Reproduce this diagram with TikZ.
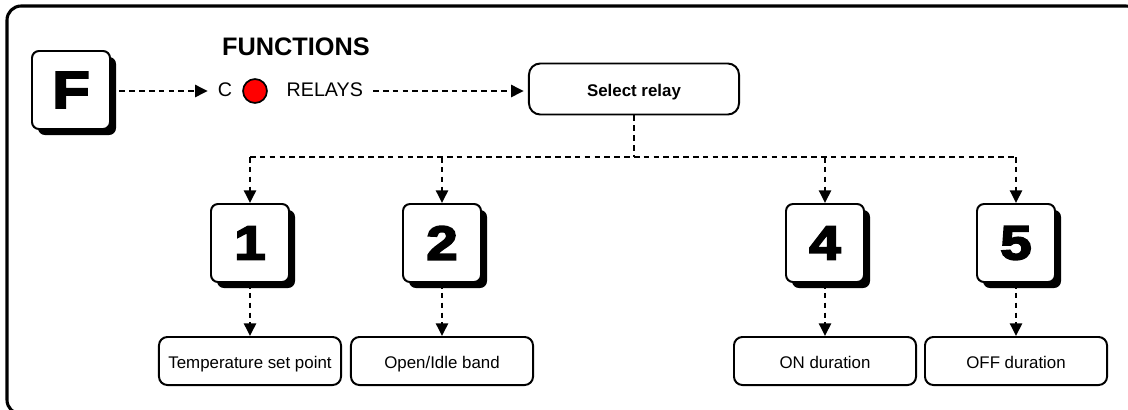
\documentclass[tikz,border=0pt]{standalone}
\usepackage{fontspec}
\setmainfont{Liberation Sans}
\newfontfamily\keyfont[FakeBold=4, FakeStretch=1.18]{Liberation Sans Bold}
\usetikzlibrary{arrows.meta,shadows}

\tikzset{
  keybox/.style={draw, line width=1.4pt, rounded corners=5pt, fill=white,
    minimum width=1.95cm, minimum height=1.95cm, inner sep=0pt,
    drop shadow={shadow xshift=0.15cm, shadow yshift=-0.15cm, fill=black, opacity=1},
    font=\keyfont\fontsize{34}{34}\selectfont},
  labelbox/.style={draw, line width=1.4pt, rounded corners=6pt,
    minimum width=4.55cm, minimum height=1.2cm, text height=2ex, text depth=0pt,
    font=\fontsize{12}{14}\selectfont},
  dashline/.style={line width=1.8pt, dash pattern=on 4pt off 3pt},
  tip/.style={-{Triangle[length=9pt,width=8.5pt]}}
}

\begin{document}
\begin{tikzpicture}[x=0.025cm, y=-0.025cm]
		\useasboundingbox (0,0) rectangle (1128,409);
		% frame
		\draw[line width=2.2pt, rounded corners=10pt] (7,6) rectangle (1140,414);
		% function key
		\node[keybox, font=\keyfont\fontsize{37}{37}\selectfont] (fkey) at (71,90) {F};
		\node[font=\bfseries\fontsize{18}{20}\selectfont] (title) at (296,47) {FUNCTIONS};
		% relays menu
		\node[font=\fontsize{14}{16}\selectfont, inner sep=1pt, text height=1.6ex, text depth=0.2ex] (ctext) at (225,91) {C};
		\node[circle, draw, line width=1.2pt, fill=red, minimum size=17pt, inner sep=0pt] (led) at (255,91) {};
		\node[font=\fontsize{14}{16}\selectfont, inner sep=1pt, text height=1.6ex, text depth=0.2ex, anchor=west] (relays) at (285,91) {RELAYS};
		\node[draw, line width=1.4pt, rounded corners=8pt, minimum width=5.25cm, minimum height=1.275cm,
		  text height=2ex, text depth=0pt, font=\bfseries\fontsize{12}{14}\selectfont] (select) at (634,89) {Select relay};
		\draw[dashline, tip, shorten <=6pt, shorten >=6pt] (fkey.east |- led) -- (ctext.west);
		\draw[dashline, tip, shorten <=6pt, shorten >=3pt] (relays.east) -- (select.west |- relays.east);
		% relay keys
		\node[keybox] (key1) at (250,243) {1};
		\node[keybox] (key2) at (442,243) {2};
		\node[keybox] (key4) at (825,243) {4};
		\node[keybox] (key5) at (1016,243) {5};
		% settings
		\node[labelbox] (lab1) at (250,361) {Temperature set point};
		\node[labelbox] (lab2) at (442,361) {Open/Idle band};
		\node[labelbox] (lab4) at (825,361) {ON duration};
		\node[labelbox] (lab5) at (1016,361) {OFF duration};
		% branches
		\coordinate (split) at (634,157);
		\draw[dashline] (select.south) -- (split);
		\draw[dashline] (key1 |- split) -- (key5 |- split);
		\foreach \k in {1,2,4,5} {
			\draw[dashline, tip] (key\k |- split) -- (key\k.north);
			\draw[dashline, tip] (key\k.south) -- (lab\k.north);
		}
	\end{tikzpicture}
\end{document}
